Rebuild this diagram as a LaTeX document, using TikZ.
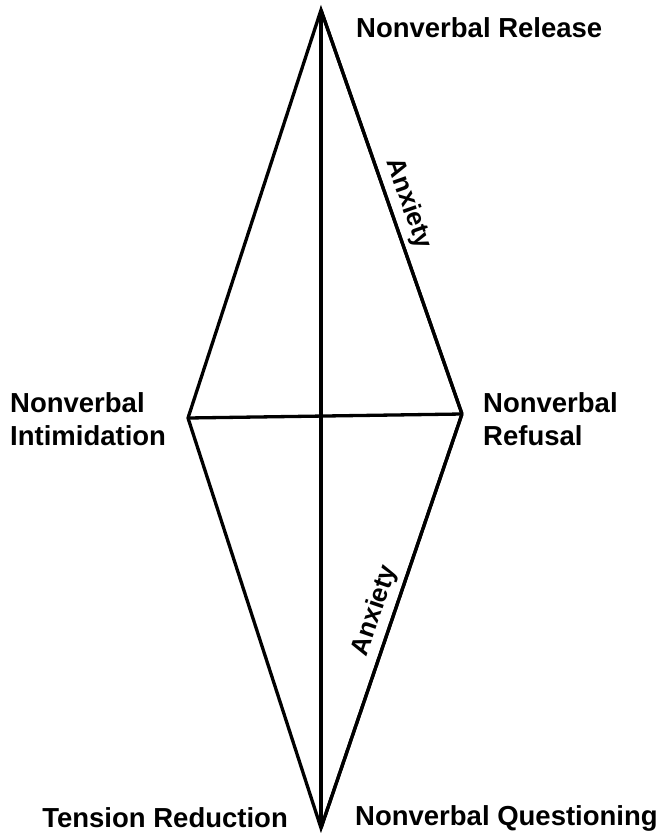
\documentclass[tikz,border=0pt]{standalone}
\usepackage{fontspec}
\setmainfont{Liberation Sans}
\begin{document}
\begin{tikzpicture}[x=1pt,y=-1pt,
  edge/.style={line width=3.3pt,line join=miter},
  lbl/.style={font=\fontsize{27.5}{33}\selectfont\bfseries,inner sep=0pt,align=left},
  anx/.style={font=\fontsize{26}{30}\selectfont\bfseries,inner sep=5pt,sloped,above}]
\useasboundingbox (0,0) rectangle (661,833);
\coordinate (top) at (321,10);
\coordinate (left) at (188,418);
\coordinate (right) at (462,414);
\coordinate (bottom) at (321,828);
\draw[edge] (top) -- (bottom);
\draw[edge] (left) -- (right);
\draw[edge] (top) -- node[anx,pos=0.495] (anx1) {Anxiety} (right);
\draw[edge] (bottom) -- node[anx,pos=0.51] (anx2) {Anxiety} (right);
\draw[edge] (right) -- (bottom) -- (left) -- (top) -- (right);
\node[lbl,anchor=west] (rel) at (356,28) {Nonverbal Release};
\node[lbl,anchor=west] (int) at (10,419) {Nonverbal\\Intimidation};
\node[lbl,anchor=west] (ref) at (483,419) {Nonverbal\\Refusal};
\node[lbl,anchor=east] (ten) at (288,818) {Tension Reduction};
\node[lbl,anchor=west] (que) at (355,818) {Nonverbal Questioning};
\end{tikzpicture}
\end{document}
